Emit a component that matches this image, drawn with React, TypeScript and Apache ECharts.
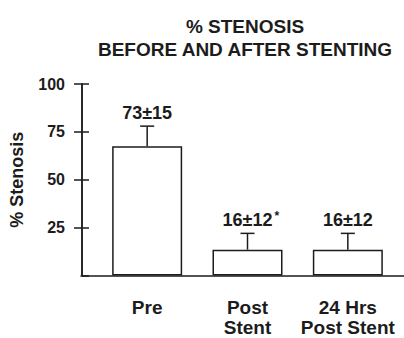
import React, { useEffect, useRef } from "react";
import * as echarts from "echarts";

const categories = ["Pre", "Post\nStent", "24 Hrs\nPost Stent"];
const means = [67.5, 13.5, 13.5];
const errorTops = [78, 22, 22];
const valueLabels = ["73±15", "16±12", "16±12"];
const significance = ["", "*", ""];
const yTicks = [25, 50, 75, 100];

const FONT = '"Liberation Sans", Arial, Helvetica, sans-serif';
const INK = "#1c1c1c";

export default function App() {
  const ref = useRef<HTMLDivElement>(null);

  useEffect(() => {
    if (!ref.current) return;
    const chart = echarts.init(ref.current, null, { renderer: "svg" });
    const option: any = {
      animation: false,
      backgroundColor: "#ffffff",
      title: {
        text: "% STENOSIS\nBEFORE AND AFTER STENTING",
        left: 245,
        top: 15,
        textAlign: "center",
        padding: 0,
        textStyle: {
          fontFamily: FONT,
          fontWeight: "bold",
          fontSize: 19,
          lineHeight: 23,
          color: INK,
        },
      },
      grid: [
        { left: 96, right: 6, top: 84, bottom: 62.5 },
        { left: 81, right: 0, top: 84, bottom: 62.5 },
      ],
      xAxis: [
        {
          type: "category",
          gridIndex: 0,
          data: categories,
          axisLine: { show: false },
          axisTick: { show: false },
          axisLabel: {
            interval: 0,
            margin: 22,
            fontFamily: FONT,
            fontWeight: "bold",
            fontSize: 19,
            lineHeight: 20,
            color: INK,
          },
          splitLine: { show: false },
        },
        {
          type: "value",
          gridIndex: 1,
          min: 0,
          max: 1,
          axisLine: { show: true, lineStyle: { color: INK, width: 1.5 } },
          axisTick: { show: false },
          axisLabel: { show: false },
          splitLine: { show: false },
        },
      ],
      yAxis: [
        {
          type: "value",
          gridIndex: 0,
          min: 0,
          max: 100,
          interval: 25,
          offset: 15,
          axisLine: { show: true, lineStyle: { color: INK, width: 1.5 } },
          axisTick: {
            show: true,
            length: 8,
            customValues: yTicks,
            lineStyle: { color: INK, width: 1.5 },
          },
          axisLabel: {
            customValues: yTicks,
            margin: 17,
            fontFamily: FONT,
            fontWeight: "bold",
            fontSize: 16,
            color: INK,
          },
          splitLine: { show: false },
          name: "% Stenosis",
          nameLocation: "middle",
          nameRotate: 90,
          nameGap: 56,
          nameTextStyle: {
            fontFamily: FONT,
            fontWeight: "bold",
            fontSize: 18,
            color: INK,
          },
        },
        {
          type: "value",
          gridIndex: 0,
          min: 0,
          max: 100,
          interval: 25,
          offset: 15,
          position: "left",
          axisLine: { show: true, lineStyle: { color: INK, width: 1.5 } },
          axisTick: {
            show: true,
            inside: true,
            length: 7,
            lineStyle: { color: INK, width: 1.5 },
          },
          axisLabel: { show: false },
          splitLine: { show: false },
        },
        { type: "value", gridIndex: 1, show: false, min: 0, max: 100 },
      ],
      series: [
        {
          type: "bar",
          xAxisIndex: 0,
          yAxisIndex: 0,
          data: means,
          barWidth: 70,
          itemStyle: { color: "#ffffff", borderColor: INK, borderWidth: 1.5 },
          z: 2,
        },
        {
          type: "custom",
          xAxisIndex: 0,
          yAxisIndex: 1,
          z: 3,
          data: categories.map((_, i) => [i, means[i], errorTops[i]]),
          encode: { x: 0, y: 2 },
          renderItem: (params: any, api: any) => {
            const i = params.dataIndex;
            const x = api.value(0);
            const base = api.coord([x, api.value(1)]);
            const top = api.coord([x, api.value(2)]);
            const children: any[] = [
              {
                type: "line",
                shape: { x1: base[0], y1: base[1], x2: top[0], y2: top[1] },
                style: { stroke: INK, lineWidth: 1.5 },
              },
              {
                type: "line",
                shape: { x1: top[0] - 7, y1: top[1], x2: top[0] + 7, y2: top[1] },
                style: { stroke: INK, lineWidth: 1.5 },
              },
              {
                type: "text",
                x: top[0],
                y: top[1] - 13,
                style: {
                  text: valueLabels[i],
                  fill: INK,
                  fontFamily: FONT,
                  fontWeight: "bold",
                  fontSize: 18,
                  align: "center",
                  verticalAlign: "middle",
                },
              },
            ];
            if (significance[i]) {
              children.push({
                type: "text",
                x: top[0] + 27,
                y: top[1] - 17,
                style: {
                  text: significance[i],
                  fill: INK,
                  fontFamily: FONT,
                  fontWeight: "bold",
                  fontSize: 12,
                  align: "left",
                  verticalAlign: "middle",
                },
              });
            }
            return { type: "group", children };
          },
        },
      ],
    };
    chart.setOption(option);
    return () => chart.dispose();
  }, []);

  return (
    <div
      ref={ref}
      style={{ width: 404, height: 338, position: "absolute", left: 0, top: 0 }}
    />
  );
}
